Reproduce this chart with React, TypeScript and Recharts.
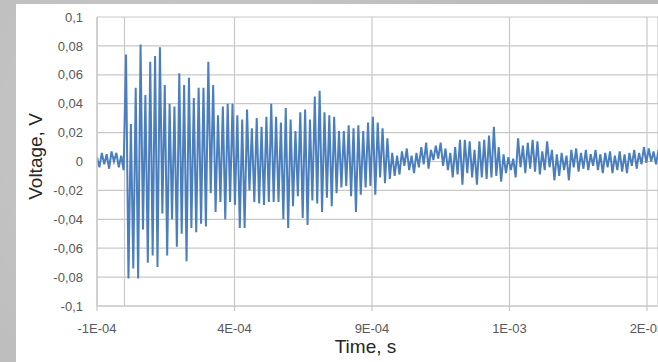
import React from "react";
import { LineChart, Line, XAxis, YAxis, CartesianGrid, ReferenceLine, Label } from "recharts";

if (typeof document !== "undefined") {
  document.documentElement.style.overflow = "hidden";
  document.body.style.overflow = "hidden";
}

// Sampling of the recorded trace
const T0 = -1e-4; // s, first sample
const DT = 8.8e-6; // s, sample interval

// Voltage samples (V)
const VOLTAGE: number[] = [
  // pre-trigger noise
  0.003, -0.004, 0.006, -0.002, 0.005, -0.005, 0.007, 0.0, 0.006, -0.004, 0.004, -0.006,
  // burst
  0.074, -0.081, 0.026, -0.074, 0.051, -0.081, 0.081, -0.047, 0.046, -0.07,
  0.069, -0.065, 0.073, -0.073, 0.079, -0.036, 0.053, -0.065, 0.04, -0.04,
  0.038, -0.059, 0.061, -0.05, 0.053, -0.069, 0.058, -0.046, 0.044, -0.049,
  0.051, -0.043, 0.051, -0.045, 0.069, -0.022, 0.053, -0.035, 0.032, -0.028,
  0.038, -0.04, 0.04, -0.028, 0.04, -0.03, 0.032, -0.046, 0.029, -0.046,
  0.036, -0.02, 0.023, -0.028, 0.03, -0.029, 0.024, -0.03, 0.031, -0.028,
  0.04, -0.028, 0.031, -0.028, 0.027, -0.04, 0.037, -0.046,
  // decay
  0.029, -0.031, 0.021, -0.024, 0.034, -0.039, 0.036, -0.044, 0.029, -0.027,
  0.045, -0.029, 0.049, -0.035, 0.034, -0.025, 0.032, -0.031, 0.031, -0.022,
  0.021, -0.018, 0.021, -0.017, 0.025, -0.024, 0.023, -0.035, 0.025, -0.023,
  0.021, -0.018, 0.027, -0.017, 0.031, -0.023, 0.027, -0.011, 0.023, -0.015,
  0.016, -0.012,
  // tail noise
  0.006, -0.01, 0.004, -0.009, 0.007, -0.003, 0.009, -0.006, 0.004, -0.008,
  0.006, -0.004, 0.01, -0.002, 0.013, -0.005, 0.008, 0.001, 0.011, 0.002,
  0.013, -0.003, 0.009, -0.006, 0.006, -0.011, 0.01, -0.009, 0.015, -0.016,
  0.015, -0.008, 0.014, -0.011, 0.008, -0.016, 0.014, -0.011, 0.015, -0.012,
  0.018, -0.011, 0.024, -0.01, 0.01, -0.014, 0.005, -0.008, 0.003, -0.006,
  0.002, -0.011, 0.016, -0.004, 0.011, -0.008, 0.013, -0.005, 0.015, -0.007,
  0.014, -0.009, 0.007, -0.006, 0.014, -0.004, 0.008, -0.013, 0.005, -0.01,
  0.006, -0.006, 0.004, -0.013, 0.008, -0.004, 0.009, -0.007, 0.006, -0.005,
  0.008, -0.006, 0.005, -0.003, 0.008, -0.006, 0.005, -0.008, 0.006, -0.004,
  0.007, -0.008, 0.004, -0.006, 0.007, -0.007, 0.005, -0.008, 0.006, -0.003,
  0.008, -0.005, 0.006, -0.002, 0.01, -0.001, 0.009, 0.0, 0.007, -0.002,
  0.008, 0.001,
];

const Y_TICKS = [0.1, 0.08, 0.06, 0.04, 0.02, 0, -0.02, -0.04, -0.06, -0.08, -0.1];
const X_TICKS = [-1e-4, 4e-4, 9e-4, 1.4e-3, 1.9e-3];
const X_DOMAIN: [number, number] = [-1e-4, 1.94e-3];

const data = VOLTAGE.map((v, i) => ({ t: T0 + i * DT, v }));

const fmtY = (v: number) => String(parseFloat(v.toFixed(2))).replace(".", ",");
const fmtX = (v: number) => {
  const s = v.toExponential(0); // e.g. "-1e-4"
  const [m, e] = s.split("e");
  const ev = parseInt(e, 10);
  const abs = Math.abs(ev).toString().padStart(2, "0");
  return `${m}E${ev < 0 ? "-" : ""}${abs}`;
};

const GRID = "#c8c8c8";
const FONT = "Liberation Sans, Arial, sans-serif";
const TICK_FONT = { fontFamily: FONT, fontSize: 13, fill: "#595959" };

export default function App() {
  return (
    <div
      style={{
        position: "fixed",
        left: 0,
        top: 0,
        width: 658,
        height: 362,
        overflow: "hidden",
        background: "radial-gradient(circle at 30% 40%, #cacaca 0%, #bdbdbd 60%, #b8b8b8 100%)",
      }}
    >
      <style>{`html,body{overflow:hidden !important;scrollbar-width:none;} ::-webkit-scrollbar{display:none;width:0;height:0;}`}</style>
      <div style={{ position: "absolute", left: 16, top: 4, width: 642, height: 358, background: "#ffffff" }} />
      <div style={{ position: "absolute", left: 0, top: 0, width: 658, height: 362 }}>
        <LineChart width={658} height={362} data={data} margin={{ top: 17, right: 0, bottom: 26, left: 0 }}>
          <CartesianGrid stroke={GRID} strokeWidth={1.2} />
          <XAxis
            dataKey="t"
            type="number"
            domain={X_DOMAIN}
            allowDataOverflow
            ticks={X_TICKS}
            tickFormatter={fmtX}
            interval={0}
            height={30}
            tickSize={5}
            tickMargin={13}
            tick={TICK_FONT}
            axisLine={{ stroke: GRID, strokeWidth: 1.2 }}
            tickLine={{ stroke: GRID, strokeWidth: 1.2 }}
          >
            <Label
              value="Time, s"
              position="bottom"
              offset={4}
              dx={-12}
              style={{ fontFamily: FONT, fontSize: 19, fill: "#262626" }}
            />
          </XAxis>
          <YAxis
            type="number"
            domain={[-0.1, 0.1]}
            ticks={Y_TICKS}
            tickFormatter={fmtY}
            interval={0}
            width={97}
            tickSize={0}
            tickMargin={14}
            tickLine={false}
            tick={TICK_FONT}
            axisLine={{ stroke: GRID, strokeWidth: 1.2 }}
          >
            <Label
              value="Voltage, V"
              angle={-90}
              position="insideLeft"
              offset={35}
              dy={-5}
              style={{ textAnchor: "middle", fontFamily: FONT, fontSize: 19, fill: "#262626" }}
            />
          </YAxis>
          <ReferenceLine x={0} stroke={GRID} strokeWidth={1.2} />
          <Line
            type="linear"
            dataKey="v"
            stroke="#4a7ebd"
            strokeWidth={2}
            dot={false}
            isAnimationActive={false}
          />
        </LineChart>
      </div>
    </div>
  );
}
